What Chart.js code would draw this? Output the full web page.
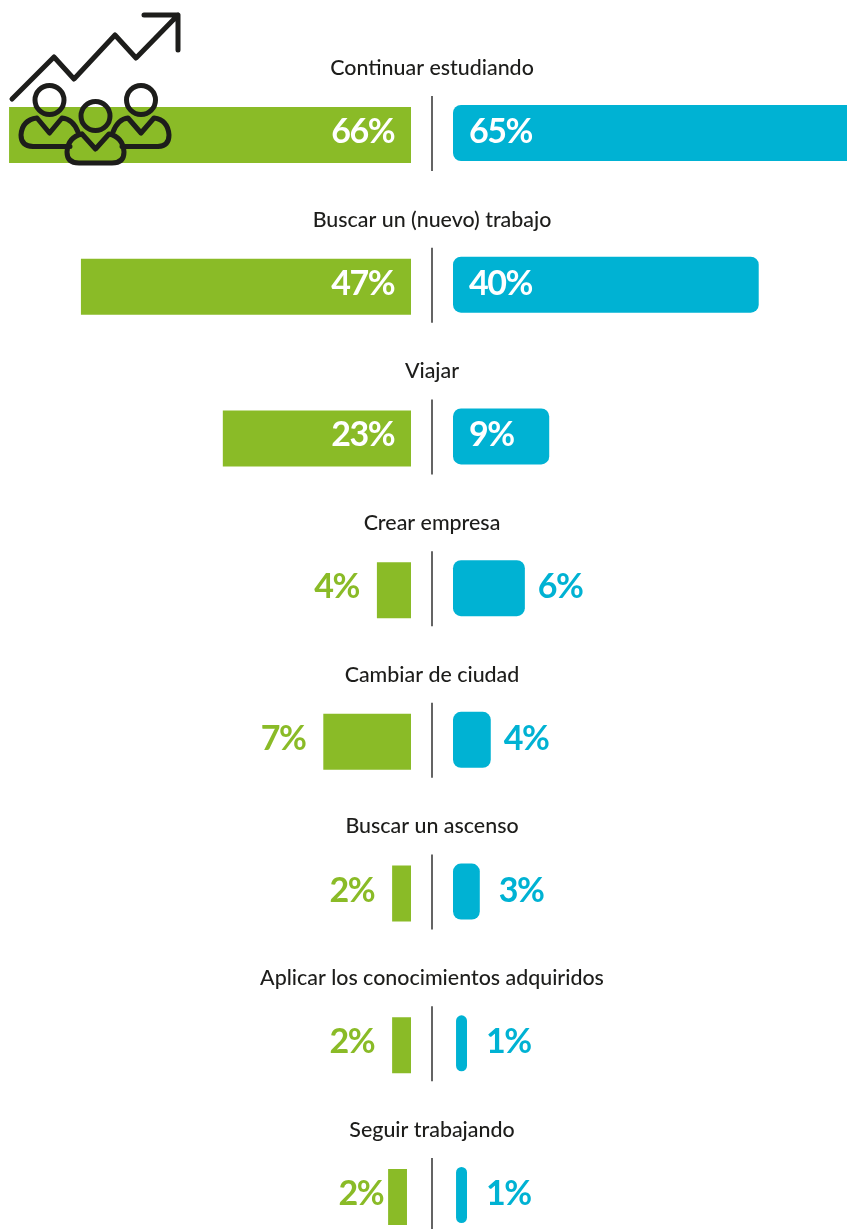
<!DOCTYPE html>
<html lang="es">
<head>
<meta charset="utf-8">
<title>Planes</title>
<script src="https://cdn.jsdelivr.net/npm/chart.js@4"></script>
<style>
  html, body { margin: 0; padding: 0; background: #fff; }
  canvas { display: block; }
</style>
</head>
<body>
<canvas id="planesChart" width="847" height="1229"></canvas>
<script>
var categories = [
    'Continuar estudiando',
    'Buscar un (nuevo) trabajo',
    'Viajar',
    'Crear empresa',
    'Cambiar de ciudad',
    'Buscar un ascenso',
    'Aplicar los conocimientos adquiridos',
    'Seguir trabajando'
];

// The percentages printed on the chart
var greenLabels = [66, 47, 23, 4, 7, 2, 2, 2];
var blueLabels = [65, 40, 9, 6, 4, 3, 1, 1];

// The source bars are not drawn to the printed numbers, so the lengths are read off separately
var greenLengths = [66, 54.2, 30.9, 5.6, 14.4, 3.1, 3.1, 3.1];
var blueLengths = [67, 50.2, 15.8, 11.8, 6.2, 4.4, 1.8, 1.8];

// A few bars start a little away from the common baseline
var greenStarts = [0, 0, 0, 0, 0, 0, 0, 0.66];
var blueStarts = [0, 0, 0, 0, 0, 0, 0.5, 0.5];

var GREEN = '#8abb27';
var BLUE = '#00b2d3';
var INK = '#1d1d1b';
var UNIT = 6.09;      // px per axis unit
var GAP = 21 / UNIT;  // space between the divider and each bar baseline
var TEXT_FONT = '500 21.4px Lato';
var VALUE_FONT = '700 34px Lato';

var greenBars = greenLengths.map(function (len, i) {
    return [-GAP - greenStarts[i], -GAP - greenStarts[i] - len];
});
var blueBars = blueLengths.map(function (len, i) {
    return [GAP + blueStarts[i], GAP + blueStarts[i] + len];
});

// Blue bars sit 2px higher than the green ones
var nudgeBlue = {
    id: 'nudgeBlue',
    beforeDatasetDraw: function (chart, args) {
        if (args.index === 1) {
            chart.ctx.save();
            chart.ctx.translate(0, -2);
        }
    },
    afterDatasetDraw: function (chart, args) {
        if (args.index === 1) {
            chart.ctx.restore();
        }
    }
};

function drawIcon(ctx) {
    ctx.save();
    ctx.strokeStyle = INK;
    ctx.lineWidth = 5;
    ctx.lineCap = 'round';
    ctx.lineJoin = 'round';

    // arrow
    ctx.beginPath();
    ctx.moveTo(12, 99);
    ctx.lineTo(54, 57);
    ctx.lineTo(74, 79);
    ctx.lineTo(115, 35);
    ctx.lineTo(136, 58);
    ctx.lineTo(178, 15);
    ctx.moveTo(144, 15);
    ctx.lineTo(178, 15);
    ctx.lineTo(178, 50);
    ctx.stroke();

    // heads
    [[49.5, 100], [95.5, 116], [141, 100]].forEach(function (h) {
        ctx.beginPath();
        ctx.arc(h[0], h[1], 14.5, 0, Math.PI * 2);
        ctx.stroke();
    });

    // left body
    ctx.beginPath();
    ctx.moveTo(70, 146.5);
    ctx.lineTo(33, 146.5);
    ctx.quadraticCurveTo(21, 146, 21, 135);
    ctx.quadraticCurveTo(22, 120, 37, 118);
    ctx.lineTo(49.5, 133);
    ctx.lineTo(62, 118);
    ctx.quadraticCurveTo(73, 119, 78, 132);
    ctx.stroke();

    // right body
    ctx.beginPath();
    ctx.moveTo(122, 146.5);
    ctx.lineTo(158, 146.5);
    ctx.quadraticCurveTo(169, 146, 169, 135);
    ctx.quadraticCurveTo(168, 120, 154, 118);
    ctx.lineTo(141, 133);
    ctx.lineTo(128, 118);
    ctx.quadraticCurveTo(118, 119, 113, 132);
    ctx.stroke();

    // centre body
    ctx.beginPath();
    ctx.moveTo(82, 134);
    ctx.lineTo(95.5, 149);
    ctx.lineTo(109, 134);
    ctx.quadraticCurveTo(123, 137, 124, 152);
    ctx.quadraticCurveTo(124, 163, 112, 163);
    ctx.lineTo(79, 163);
    ctx.quadraticCurveTo(67, 163, 67, 152);
    ctx.quadraticCurveTo(68, 137, 82, 134);
    ctx.stroke();
    ctx.restore();
}

var annotate = {
    id: 'annotate',
    afterDatasetsDraw: function (chart) {
        var ctx = chart.ctx;
        var x = chart.scales.x;
        var y = chart.scales.y;
        var mid = x.getPixelForValue(0);

        ctx.save();
        categories.forEach(function (name, i) {
            var cy = y.getPixelForValue(i);

            // divider
            ctx.strokeStyle = '#646464';
            ctx.lineWidth = 2;
            ctx.beginPath();
            ctx.moveTo(mid, cy - 39);
            ctx.lineTo(mid, cy + 36);
            ctx.stroke();

            // category title
            ctx.fillStyle = INK;
            ctx.font = TEXT_FONT;
            ctx.letterSpacing = '0px';
            ctx.textAlign = 'center';
            ctx.textBaseline = 'middle';
            ctx.fillText(name, mid, cy - 67);

            // green value
            ctx.font = VALUE_FONT;
            ctx.letterSpacing = '-1.5px';
            ctx.textAlign = 'right';
            var gBase = x.getPixelForValue(greenBars[i][0]);
            var gEnd = x.getPixelForValue(greenBars[i][1]);
            if (greenLabels[i] > 9) {
                ctx.fillStyle = '#fff';
                ctx.fillText(greenLabels[i] + '%', gBase - 17, cy - 3);
            } else {
                ctx.fillStyle = GREEN;
                ctx.fillText(greenLabels[i] + '%', gEnd - (greenStarts[i] ? 5 : 18), cy - 3);
            }

            // blue value
            ctx.textAlign = 'left';
            var bBase = x.getPixelForValue(blueBars[i][0]);
            var bEnd = x.getPixelForValue(blueBars[i][1]);
            if (blueLabels[i] >= 9) {
                ctx.fillStyle = '#fff';
                ctx.fillText(blueLabels[i] + '%', bBase + 16, cy - 3);
            } else {
                ctx.fillStyle = BLUE;
                ctx.fillText(blueLabels[i] + '%', bEnd + (blueLabels[i] <= 3 ? 19 : 13), cy - 3);
            }
        });
        ctx.restore();

        drawIcon(ctx);
    }
};

var ctx = document.getElementById('planesChart').getContext('2d');
var chart = new Chart(ctx, {
    type: 'bar',
    data: {
        labels: categories,
        datasets: [{
            data: greenBars,
            backgroundColor: GREEN,
            borderRadius: 0,
            inflateAmount: 0,
            barThickness: 56,
            clip: false
        }, {
            data: blueBars,
            backgroundColor: BLUE,
            borderRadius: 8,
            borderSkipped: false,
            inflateAmount: 0,
            barThickness: 56,
            clip: false
        }]
    },
    options: {
        indexAxis: 'y',
        responsive: false,
        animation: false,
        layout: { padding: { top: 135, bottom: 32, left: 0, right: 0 } },
        datasets: { bar: { grouped: false } },
        scales: {
            x: { display: false, min: -432 / UNIT, max: 415 / UNIT },
            y: { display: false, offset: false }
        },
        plugins: {
            legend: { display: false },
            tooltip: { enabled: false }
        }
    },
    plugins: [nudgeBlue, annotate]
});
</script>
</body>
</html>
